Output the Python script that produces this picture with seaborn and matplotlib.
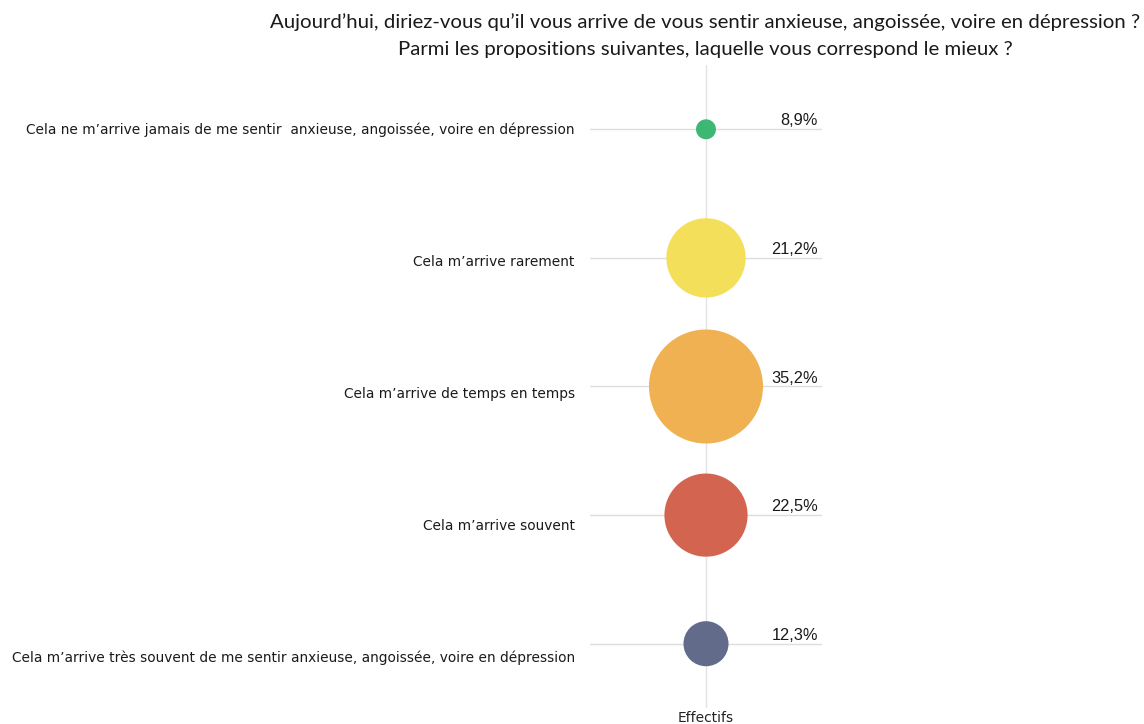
import matplotlib
matplotlib.use("Agg")
import matplotlib.pyplot as plt
import seaborn as sns
import pandas as pd

categories = [
    "Cela ne m\u2019arrive jamais de me sentir  anxieuse, angoiss\u00e9e, voire en d\u00e9pression",
    "Cela m\u2019arrive rarement",
    "Cela m\u2019arrive de temps en temps",
    "Cela m\u2019arrive souvent",
    "Cela m\u2019arrive tr\u00e8s souvent de me sentir anxieuse, angoiss\u00e9e, voire en d\u00e9pression",
]
values = [8.9, 21.2, 35.2, 22.5, 12.3]
colors = ["#3DB874", "#F4DF5A", "#EFB152", "#D36450", "#626C8A"]
column = "Effectifs"
title_lines = [
    "Aujourd\u2019hui, diriez-vous qu\u2019il vous arrive de vous sentir anxieuse, angoiss\u00e9e, voire en d\u00e9pression ?",
    "Parmi les propositions suivantes, laquelle vous correspond le mieux ?",
]

df = pd.DataFrame({"cat": categories, "val": values, "col": [column] * len(values)})

sns.set_theme(style="white")
fig = plt.figure(figsize=(11.44, 7.24), dpi=100)
ax = fig.add_axes([590 / 1144, 1 - 708 / 724, 232 / 1144, 643 / 724])

sns.scatterplot(data=df, x="col", y="cat", size="val", sizes=(207, 6740),
                hue="cat", palette=colors, linewidth=0, legend=False, ax=ax, zorder=3)

ax.set_ylim(len(categories) - 0.5, -0.5)
ax.set_xlim(-0.5, 0.5)
for i in range(len(categories)):
    ax.axhline(i, color="#dddddd", lw=1, zorder=1)
ax.axvline(0, color="#e3e3e3", lw=1, zorder=1)

for s in ax.spines.values():
    s.set_visible(False)
ax.set_xlabel("")
ax.set_ylabel("")
ax.set_yticks([])
ax.set_xticks([0])
ax.set_xticklabels([column], fontsize=9.9, family="DejaVu Sans", color="#222222")
ax.tick_params(axis="x", length=0, pad=2)

for i, (c, v) in enumerate(zip(categories, values)):
    ax.annotate(c, xy=(0, i), xycoords=("axes fraction", "data"),
                xytext=(-11, -i * 2.6), textcoords="offset points",
                ha="right", va="center", fontsize=9.9, family="DejaVu Sans", color="#1a1a1a")
    ax.annotate(f"{v:.1f}".replace(".", ",") + "%", xy=(1, i),
                xycoords=("axes fraction", "data"),
                xytext=(-3, 6), textcoords="offset points",
                ha="right", va="center", fontsize=11.8, family="Liberation Sans", color="#1a1a1a")

fig.text(705 / 1144, 1 - 22 / 724, title_lines[0], ha="center", va="center",
         fontsize=14.65, family="Lato", color="#1a1a1a")
fig.text(705 / 1144, 1 - 50 / 724, title_lines[1], ha="center", va="center",
         fontsize=14.65, family="Lato", color="#1a1a1a")

fig.savefig("out.png", dpi=100)
